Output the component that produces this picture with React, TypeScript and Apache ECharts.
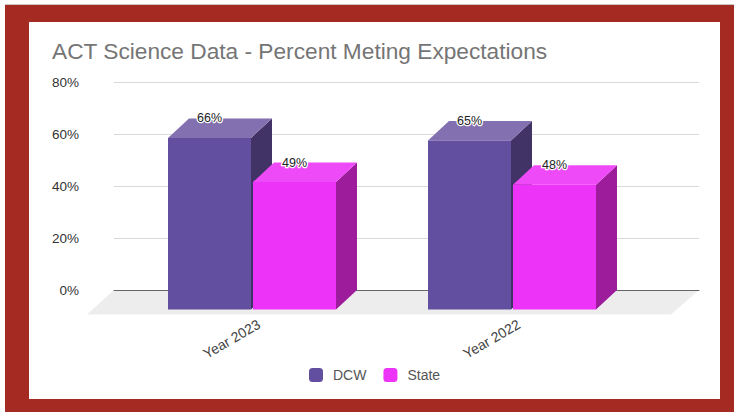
import React, { useEffect, useRef } from "react";
import * as echarts from "echarts";

const categories = ["Year 2023", "Year 2022"];
const dcwValues = [66, 65];
const stateValues = [49, 48];
const yTicks = { min: 0, max: 80, interval: 20 };
const FONT = '"Liberation Sans", Arial, sans-serif';

const DEPTH_X = 21;
const DEPTH_Y = 19.5;
const BAR_W = 83;
const LABEL_SHIFT = 7;

type Shades = { front: string; side: string; top: string };
const dcwShades: Shades = { front: "#624FA0", side: "#413366", top: "#8270B0" };
const stateShades: Shades = { front: "#EE33F8", side: "#9C1C9C", top: "#EF4AF8" };

function renderBar(dir: number, shades: Shades) {
  return (_params: any, api: any) => {
    const cat = api.value(0);
    const val = api.value(1);
    const [axisX, backTop] = api.coord([cat, val]);
    const cx = axisX - LABEL_SHIFT;
    const [, base] = api.coord([cat, 0]);
    const x0 = dir < 0 ? cx - 1 - BAR_W : cx + 1;
    const x1 = x0 + BAR_W;
    const top = backTop + DEPTH_Y;
    const bottom = base + DEPTH_Y;
    const poly = (points: number[][], fill: string) => ({
      type: "polygon",
      shape: { points },
      style: { fill, stroke: null },
    });
    return {
      type: "group",
      children: [
        poly([[x1, top], [x1 + DEPTH_X, backTop], [x1 + DEPTH_X, base], [x1, bottom]], shades.side),
        poly([[x0, top], [x0 + DEPTH_X, backTop], [x1 + DEPTH_X, backTop], [x1, top]], shades.top),
        poly([[x0, top], [x1, top], [x1, bottom], [x0, bottom]], shades.front),
        {
          type: "text",
          x: (x0 + x1) / 2,
          y: backTop,
          style: {
            text: val + "%",
            align: "center",
            verticalAlign: "middle",
            font: `12.5px ${FONT}`,
            fill: "#222222",
            stroke: "#ffffff",
            lineWidth: 2.5,
          },
        },
      ],
    };
  };
}

export default function App() {
  const ref = useRef<HTMLDivElement>(null);
  useEffect(() => {
    document.body.style.margin = "0";
    const chart = echarts.init(ref.current!, undefined, { renderer: "svg" });
    chart.setOption({
      animation: false,
      backgroundColor: "#ffffff",
      color: [dcwShades.front, stateShades.front],
      title: {
        text: "ACT Science Data - Percent Meting Expectations",
        left: 52,
        top: 39,
        padding: 0,
        textStyle: { fontFamily: FONT, fontSize: 22.7, fontWeight: "normal", color: "#757575" },
      },
      legend: {
        left: 309,
        top: 368,
        padding: 0,
        itemWidth: 14,
        itemHeight: 14,
        itemGap: 17,
        icon: "roundRect",
        selectedMode: false,
        data: ["DCW", "State"],
        textStyle: { fontFamily: FONT, fontSize: 14, color: "#555555", padding: [0, 0, 0, 5] },
      },
      grid: [
        { left: 114, top: 82, width: 585, height: 208 },
        { left: 122 + LABEL_SHIFT, top: 82, width: 520, height: 208 },
      ],
      xAxis: [
        {
          gridIndex: 0,
          type: "category",
          data: categories,
          axisLine: { lineStyle: { color: "#666666", width: 1 } },
          axisTick: { show: false },
          axisLabel: { show: false },
          z: 1,
        },
        {
          gridIndex: 1,
          type: "category",
          data: categories,
          axisLine: { show: false },
          axisTick: { show: false },
          axisLabel: {
            rotate: 30,
            margin: 33,
            fontFamily: FONT,
            fontSize: 14,
            color: "#444444",
          },
        },
      ],
      yAxis: [
        {
          gridIndex: 0,
          type: "value",
          ...yTicks,
          axisLine: { show: false },
          axisTick: { show: false },
          axisLabel: {
            formatter: "{value}%",
            margin: 35,
            fontFamily: FONT,
            fontSize: 13.5,
            color: "#333333",
          },
          splitLine: { lineStyle: { color: "#D9D9D9", width: 1 } },
        },
        {
          gridIndex: 1,
          type: "value",
          ...yTicks,
          show: false,
        },
      ],
      graphic: [
        {
          type: "polygon",
          silent: true,
          z: -1,
          shape: { points: [[114, 290], [699, 290], [671, 314.5], [87, 314.5]] },
          style: { fill: "#EDEDED" },
        },
        // outer red frame
        { type: "rect", silent: true, z: -2, shape: { x: 5, y: 4, width: 729, height: 1 }, style: { fill: "#C8C8C8" } },
        { type: "rect", silent: true, z: -2, shape: { x: 5, y: 5, width: 729, height: 17 }, style: { fill: "#A52A21" } },
        { type: "rect", silent: true, z: -2, shape: { x: 5, y: 399, width: 729, height: 13 }, style: { fill: "#A52A21" } },
        { type: "rect", silent: true, z: -2, shape: { x: 5, y: 5, width: 24, height: 407 }, style: { fill: "#A52A21" } },
        { type: "rect", silent: true, z: -2, shape: { x: 720, y: 5, width: 14, height: 407 }, style: { fill: "#A52A21" } },
      ],
      series: [
        {
          name: "DCW",
          type: "custom",
          xAxisIndex: 1,
          yAxisIndex: 1,
          itemStyle: { color: dcwShades.front },
          encode: { x: 0, y: 1 },
          data: dcwValues.map((v, i) => [i, v]),
          renderItem: renderBar(-1, dcwShades),
          z: 3,
        },
        {
          name: "State",
          type: "custom",
          xAxisIndex: 1,
          yAxisIndex: 1,
          itemStyle: { color: stateShades.front },
          encode: { x: 0, y: 1 },
          data: stateValues.map((v, i) => [i, v]),
          renderItem: renderBar(1, stateShades),
          z: 4,
        },
      ],
    });
    return () => chart.dispose();
  }, []);
  return <div ref={ref} style={{ width: 734, height: 412 }} />;
}
